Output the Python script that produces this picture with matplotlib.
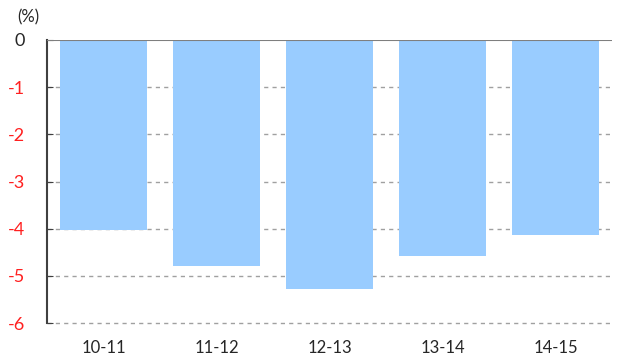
import numpy as np
import matplotlib.pyplot as plt

periods = ["10-11", "11-12", "12-13", "13-14", "14-15"]
change = [-4.03, -4.79, -5.28, -4.58, -4.13]
yticks = [0, -1, -2, -3, -4, -5, -6]

plt.rcParams['font.family'] = ['Lato', 'DejaVu Sans']

fig = plt.figure(figsize=(6.22, 3.58), dpi=100)
ax = fig.add_axes([47 / 622, 1 - 323 / 358, 565 / 622, 283 / 358])

x = np.arange(len(periods))
ax.bar(x, change, width=0.775, color="#99ccff", zorder=2)

for t in yticks[1:]:
    ax.axhline(t, color="#a0a0a0", linestyle=(0, (3, 3)), linewidth=1, zorder=1, clip_on=False)
ax.axhline(0, color="#7f7f7f", linewidth=1.5, zorder=3)

ax.set_xlim(-0.5, 4.5)
ax.set_ylim(-6, 0)
ax.set_xticks(x)
ax.set_xticklabels(periods, fontsize=12, color="#262626")
ax.set_yticks(yticks)
ax.set_yticklabels([str(t) for t in yticks], fontsize=13)
for lab, t in zip(ax.get_yticklabels(), yticks):
    lab.set_color("#ff2020" if t < 0 else "#262626")

ax.tick_params(axis="x", length=0, pad=12)
ax.tick_params(axis="y", length=4, direction="in", pad=16, color="#404040")
for side in ["top", "right", "bottom"]:
    ax.spines[side].set_visible(False)
ax.spines["left"].set_color("#404040")
ax.spines["left"].set_linewidth(1.5)

fig.text(28 / 622, 1 - 17 / 358, "(%)", fontsize=12, color="#262626", va="center", ha="center")

fig.savefig("out.png", dpi=100)
